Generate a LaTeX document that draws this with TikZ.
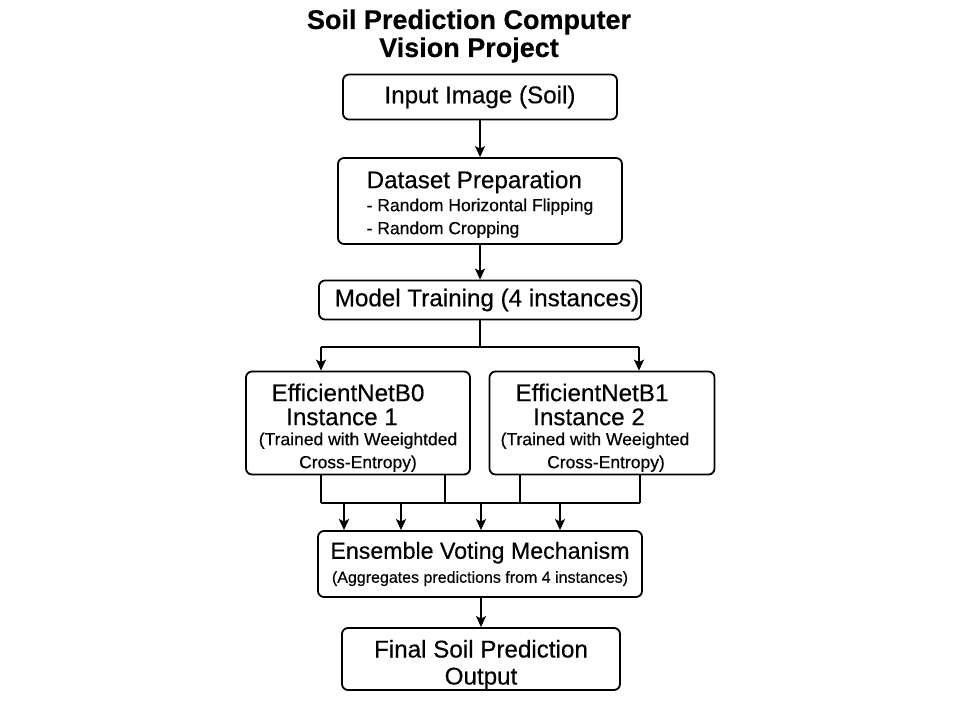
\documentclass[tikz,border=0pt]{standalone}
\usepackage{fontspec}
\setmainfont{Liberation Sans}[FakeBold=0.4]
\usetikzlibrary{arrows.meta}
\newcommand{\bigsz}{\fontsize{24.2}{26}\selectfont}
\newcommand{\smallsz}{\fontsize{17.5}{22.5}\selectfont}
\newcommand{\tinysz}{\fontsize{16}{27}\selectfont}
\newcommand{\up}[1]{\rule{0pt}{#1pt}}
\newcommand{\gap}[1]{\rule{#1pt}{0pt}}
\tikzset{
  box/.style={draw, line width=1.8pt, rounded corners=6pt, inner sep=0pt, align=center, font=\bigsz},
  wire/.style={line width=1.6pt},
  arr/.style={wire, -{Stealth[length=11pt,width=10pt,inset=2.5pt]}},
}
\begin{document}
\begin{tikzpicture}[x=1pt,y=-1pt]
\useasboundingbox (0,0) rectangle (960,720);
%заголовок
\node[font=\fontsize{27}{28}\selectfont\bfseries, align=center] (title) at (469,36) {Soil Prediction Computer\\Vision Project};
%блоки
\node[box, minimum width=274, minimum height=45] (input) at (480,97) {Input Image (Soil)};
\node[box, minimum width=284, minimum height=86, align=left] (prep) at (480,201)
  {\up{24}Dataset Preparation\\[-3pt]\smallsz - Random Horizontal Flipping\\[-3pt]\smallsz - Random Cropping};
\node[box, minimum width=322, minimum height=39] (train) at (480,300) {\gap{14}Model Training (4 instances)};
\node[box, minimum width=224, minimum height=103] (b0) at (358,423)
  {\up{27}EfficientNetB0\gap{20}\\[-2pt]Instance 1\gap{32}\\[-6pt]\smallsz (Trained with Weeightded\\[-3pt]\smallsz Cross-Entropy)};
\node[box, minimum width=225, minimum height=103] (b1) at (602,423)
  {\up{27}EfficientNetB1\gap{20}\\[-2pt]Instance 2\gap{26}\\[-6pt]\smallsz (Trained with Weeighted\gap{14}\\[-3pt]\smallsz\gap{8}Cross-Entropy)};
\node[box, minimum width=324, minimum height=66] (ens) at (480,564)
  {\fontsize{23.2}{26}\selectfont Ensemble Voting Mechanism\\[-2pt]\tinysz (Aggregates predictions from 4 instances)};
\node[box, minimum width=278, minimum height=62] (out) at (481,659) {\up{29}Final Soil Prediction\\[1pt]Output};
%стрелки
\draw[arr] (input) -- (prep);
\draw[arr] (prep) -- (train);
%разветвление
\coordinate (sl) at (321,347);
\coordinate (sr) at (639,347);
\draw[wire] (train) -- (train |- sl);
\draw[wire] (sl) -- (sr);
\draw[arr] (sl) -- (sl |- b0.north);
\draw[arr] (sr) -- (sr |- b1.north);
%сбор
\coordinate (ml) at (321,503);
\coordinate (mr) at (640,503);
\draw[wire] (ml) -- (mr);
\foreach \x/\b in {321/b0,445/b0,520/b1,640/b1}
  \draw[wire] (\x,0 |- \b.south) -- (\x,0 |- ml);
\foreach \x/\w in {344/2.6,401/1.6,481/1.6,560/1.6}
  \draw[arr, line width=\w pt] (\x,0 |- ml) -- (\x,0 |- ens.north);
\draw[arr] (ens.south -| out) -- (out);
\end{tikzpicture}
\end{document}
